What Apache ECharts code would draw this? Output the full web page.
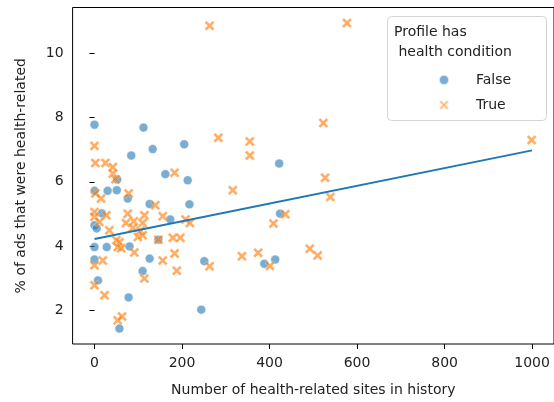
<!DOCTYPE html>
<html>
<head>
<meta charset="utf-8">
<script src="https://cdn.jsdelivr.net/npm/echarts@6/dist/echarts.min.js"></script>
<style>
  html, body { margin: 0; padding: 0; background: #fff; }
  #main { width: 554px; height: 402px; }
</style>
</head>
<body>
<div id="main"></div>
<script>
// profiles without a health condition
var falseSites = [0, 112, 205, 133, 84, 162, 213, 52, 0, 30, 51, 76, 126, 217, 0, 5, 173, 146, 0, 28, 80, 126, 0, 110, 8, 78, 57, 17, 251, 244, 388, 413, 422, 424];
var falsePct = [7.78, 7.69, 7.17, 7.02, 6.82, 6.24, 6.05, 6.07, 5.72, 5.72, 5.74, 5.48, 5.31, 5.30, 4.65, 4.55, 4.83, 4.20, 3.97, 3.97, 3.99, 3.61, 3.58, 3.22, 2.93, 2.40, 1.43, 5.02, 3.53, 2.02, 3.45, 3.58, 6.57, 5.01];

// profiles with a health condition
var trueSites = [0, 2, 25, 42, 42, 48, 183, 2, 78, 15, 139, 0, 0, 27, 76, 114, 156, 11, 34, 72, 90, 110, 88, 105, 208, 218, 50, 57, 53, 99, 110, 146, 179, 196, 91, 61, 183, 19, 0, 156, 188, 114, 0, 23, 53, 63,
  263, 577, 523, 283, 355, 355, 316, 527, 539, 999, 436, 409, 337, 374, 263, 401, 492, 510];
var truePct = [7.12, 6.59, 6.59, 6.46, 6.26, 6.08, 6.28, 5.64, 5.64, 5.48, 5.27, 5.06, 4.91, 4.96, 5.01, 4.96, 4.93, 4.75, 4.49, 4.72, 4.77, 4.72, 4.57, 4.48, 4.83, 4.72, 4.18, 4.12, 3.97, 4.28, 4.34, 4.20, 4.26, 4.26, 3.80, 3.93, 3.77, 3.55, 3.40, 3.55, 3.23, 2.99, 2.78, 2.47, 1.69, 1.81,
  10.86, 10.95, 7.83, 7.37, 7.26, 6.82, 5.74, 6.13, 5.53, 7.30, 4.99, 4.70, 3.68, 3.79, 3.37, 3.38, 3.92, 3.71];

// fitted line ends
var trendSites = [0, 1000];
var trendPct = [4.22, 6.98];

var xTicks = [0, 200, 400, 600, 800, 1000];
var yTicks = [2, 4, 6, 8, 10];

var xMark = 'path://M0,2 L2,0 L5,3 L8,0 L10,2 L7,5 L10,8 L8,10 L5,7 L2,10 L0,8 L3,5 Z';
var font = 'DejaVu Sans';

function pairs(xs, ys) {
    var out = [];
    for (var i = 0; i < xs.length; i++) {
        out.push([xs[i], ys[i]]);
    }
    return out;
}

var myChart = echarts.init(document.getElementById('main'));
var option = {
    animation: false,
    backgroundColor: '#fff',
    grid: {
        left: 72.6, top: 7.5, right: 0, bottom: 57.5,
        show: true, borderColor: '#000', borderWidth: 1, backgroundColor: 'transparent'
    },
    xAxis: {
        type: 'value',
        min: -50, max: 1050,
        name: 'Number of health-related sites in history',
        nameLocation: 'middle',
        nameGap: 39,
        nameTextStyle: { fontFamily: font, fontSize: 14, color: '#222' },
        splitLine: { show: false },
        axisLine: { show: false },
        axisTick: { show: true, length: 5, inside: false, customValues: xTicks, lineStyle: { color: '#000' } },
        axisLabel: {
            customValues: xTicks, margin: 12, fontFamily: font, fontSize: 14, color: '#222',
            formatter: function (v) { return String(v); }
        }
    },
    yAxis: {
        type: 'value',
        min: 0.95, max: 11.43,
        name: '% of ads that were health-related',
        nameLocation: 'middle',
        nameGap: 44,
        nameTextStyle: { fontFamily: font, fontSize: 14, color: '#222' },
        splitLine: { show: false },
        axisLine: { show: false },
        axisTick: { show: true, length: 5, customValues: yTicks, lineStyle: { color: '#000' } },
        axisLabel: { customValues: yTicks, margin: 9, fontFamily: font, fontSize: 14, color: '#222' }
    },
    legend: {
        orient: 'vertical',
        left: 433, top: 68,
        z: 60,
        itemWidth: 10, itemHeight: 10,
        itemGap: 11,
        textStyle: { fontFamily: font, fontSize: 14, color: '#222', padding: [0, 0, 0, 22] },
        data: [
            { name: 'False', icon: 'circle' },
            { name: 'True', icon: xMark }
        ]
    },
    graphic: [
        {
            type: 'rect', left: 387, top: 16, z: 1,
            shape: { width: 159, height: 104, r: 4 },
            style: { fill: 'rgba(255,255,255,0.8)', stroke: '#d4d4d4', lineWidth: 1 }
        },
        {
            type: 'text', left: 394, top: 22, z: 2,
            style: { text: 'Profile has\n health condition', font: '14px "DejaVu Sans"', fill: '#222', lineHeight: 20 }
        }
    ],
    series: [
        {
            name: 'False',
            type: 'scatter',
            data: pairs(falseSites, falsePct),
            symbol: 'circle',
            symbolSize: 9,
            itemStyle: { color: 'rgba(31,119,180,0.75)', borderColor: 'rgba(255,255,255,0.8)', borderWidth: 0.8 },
            z: 2
        },
        {
            name: 'True',
            type: 'scatter',
            data: pairs(trueSites, truePct),
            symbol: xMark,
            symbolSize: 10,
            itemStyle: { color: 'rgba(255,127,14,0.8)', borderColor: 'rgba(255,255,255,0.7)', borderWidth: 0.5 },
            z: 3
        },
        {
            name: 'trend',
            type: 'line',
            data: pairs(trendSites, trendPct),
            symbol: 'none',
            lineStyle: { color: '#1f77b4', width: 2 },
            z: 4
        }
    ]
};
myChart.setOption(option);
</script>
</body>
</html>
